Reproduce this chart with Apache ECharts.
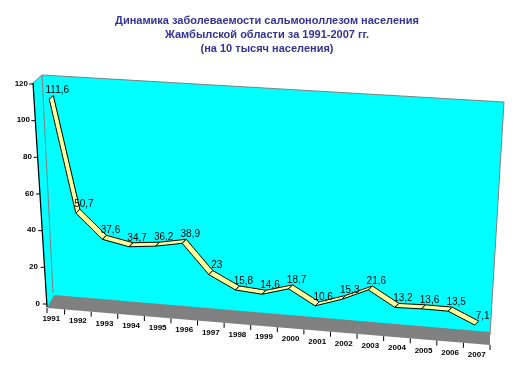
<!DOCTYPE html>
<html><head><meta charset="utf-8">
<script src="https://cdn.jsdelivr.net/npm/echarts@6/dist/echarts.min.js"></script>
<style>html,body{margin:0;padding:0;background:#fff}#c{width:515px;height:386px}</style>
</head><body><div id="c"></div>
<script>
const titleLines = ['Динамика заболеваемости сальмоноллезом населения', 'Жамбылской области за 1991-2007 гг.', '(на 10 тысяч населения)'];
const years = ['1991','1992','1993','1994','1995','1996','1997','1998','1999','2000','2001','2002','2003','2004','2005','2006','2007'];
const values = [111.6, 50.7, 37.6, 34.7, 36.2, 38.9, 23, 15.8, 14.6, 18.7, 10.6, 15.3, 21.6, 13.2, 13.6, 13.5, 7.1];
const yTicks = [0, 20, 40, 60, 80, 100, 120];

const FONT = "'Liberation Sans', Arial, sans-serif";
const SHEAR = 0.08;          // perspective slope of the plot plane
const DEPTH = [4, -4];       // ribbon depth vector

function pt(api, i, v) {
  const c = api.coord([i, v]);
  const c0 = api.coord([0, 0]);
  return [c[0], c[1] + SHEAR * (c[0] - c0[0])];
}

const yRich = {};
yTicks.forEach(v => { yRich['r' + v] = { padding: [3, v / 10, 0, 0], fontSize: 8, fontWeight: 'bold', fontFamily: FONT, color: '#000' }; });
const xRich = {};
years.forEach((y, i) => { xRich['t' + i] = { padding: [Math.round(i * 2.25) + 1, 0, 0, 0], fontSize: 8, fontWeight: 'bold', fontFamily: FONT, color: '#000' }; });

const chart = echarts.init(document.getElementById('c'), null, { renderer: 'canvas' });
chart.setOption({
  backgroundColor: '#fff',
  animation: false,
  title: {
    text: titleLines.join('\n'),
    left: 262, top: 9, textAlign: 'center',
    textStyle: { fontSize: 11, fontWeight: 'bold', color: '#333399', lineHeight: 14, fontFamily: FONT }
  },
  grid: { left: 38, right: 25, top: 82, bottom: 84 },
  xAxis: {
    type: 'category', data: years, boundaryGap: true,
    axisLine: { show: false }, axisTick: { show: false }, splitLine: { show: false },
    axisLabel: { interval: 0, margin: 12, formatter: (v, i) => '{t' + i + '|' + v + '}', rich: xRich }
  },
  yAxis: {
    type: 'value', min: 0, max: 120, interval: 20, offset: -10,
    axisLine: { show: false }, axisTick: { show: false }, splitLine: { show: false },
    axisLabel: { margin: 8, formatter: v => '{r' + v + '|' + v + '}', rich: yRich }
  },
  series: [
    {
      type: 'custom', name: 'decor', z: 1, silent: true,
      data: [[0, 0]],
      renderItem: function (params, api) {
        const cs = params.coordSys;
        const L = cs.x, R = cs.x + cs.width, T = cs.y, B = cs.y + cs.height;
        const band = api.size([1, 0])[0];
        const bl = [L + 9, B + 6], br = [R, B + 43];
        const bottomY = x => bl[1] + (x - bl[0]) * (br[1] - bl[1]) / (br[0] - bl[0]);
        const axTop = [L - 5, T + 1], axBot = [L + 9, B + 5];
        const children = [
          { type: 'polygon', shape: { points: [axTop, [L + 4, T - 7], [R + 14, T + 20], [R, B + 33], axBot] }, style: { fill: '#00FFFF', stroke: null } },
          { type: 'polyline', shape: { points: [[L + 4, T - 7], [R + 14, T + 20], [R, B + 33]] }, style: { stroke: '#808080', lineWidth: 1, fill: null } },
          { type: 'line', shape: { x1: L + 4, y1: T - 7, x2: L + 15, y2: B - 9 }, style: { stroke: '#808080', lineWidth: 1 } },
          { type: 'line', shape: { x1: L - 5, y1: T + 1, x2: L + 4, y2: T - 7 }, style: { stroke: '#808080', lineWidth: 1 } },
          { type: 'polygon', shape: { points: [bl, [L + 16, B - 7], [R, B + 30], br] }, style: { fill: '#808080', stroke: null } },
          { type: 'line', shape: { x1: axTop[0], y1: axTop[1], x2: axBot[0], y2: axBot[1] }, style: { stroke: '#000', lineWidth: 1.2 } }
        ];
        yTicks.forEach(v => {
          const y = api.coord([0, v])[1] + 2;
          const x = axTop[0] + (y - axTop[1]) * (axBot[0] - axTop[0]) / (axBot[1] - axTop[1]);
          children.push({ type: 'line', shape: { x1: x - 4, y1: y, x2: x, y2: y }, style: { stroke: '#000', lineWidth: 1 } });
        });
        for (let k = 0; k <= years.length; k++) {
          const x = Math.max(L + k * band, bl[0]);
          const y = bottomY(x);
          children.push({ type: 'line', shape: { x1: x, y1: y, x2: x, y2: y + 5 }, style: { stroke: '#000', lineWidth: 1 } });
        }
        return { type: 'group', children: children };
      }
    },
    {
      type: 'custom', name: 'ribbon', z: 3,
      data: values.map((v, i) => [years[i], v]),
      encode: { x: 0, y: 1 },
      renderItem: function (params, api) {
        const i = params.dataIndex;
        if (i >= values.length - 1) return { type: 'group', children: [] };
        const a = pt(api, i, values[i]);
        const b = pt(api, i + 1, values[i + 1]);
        const h = [DEPTH[0] / 2, DEPTH[1] / 2];
        const pts = [
          [a[0] - h[0], a[1] - h[1]], [b[0] - h[0], b[1] - h[1]],
          [b[0] + h[0], b[1] + h[1]], [a[0] + h[0], a[1] + h[1]]
        ];
        return { type: 'polygon', shape: { points: pts }, style: { fill: '#FFFF99', stroke: '#000', lineWidth: 1 } };
      }
    },
    {
      type: 'custom', name: 'labels', z: 4,
      data: values.map((v, i) => [years[i], v]),
      encode: { x: 0, y: 1 },
      renderItem: function (params, api) {
        const i = params.dataIndex;
        const p = pt(api, i, values[i]);
        return {
          type: 'text',
          style: { text: String(values[i]).replace('.', ','), x: p[0] + 6, y: p[1] - 7, align: 'center', verticalAlign: 'middle', fontSize: 10, fontFamily: FONT, fill: '#000' }
        };
      }
    }
  ]
});
</script>
</body></html>
